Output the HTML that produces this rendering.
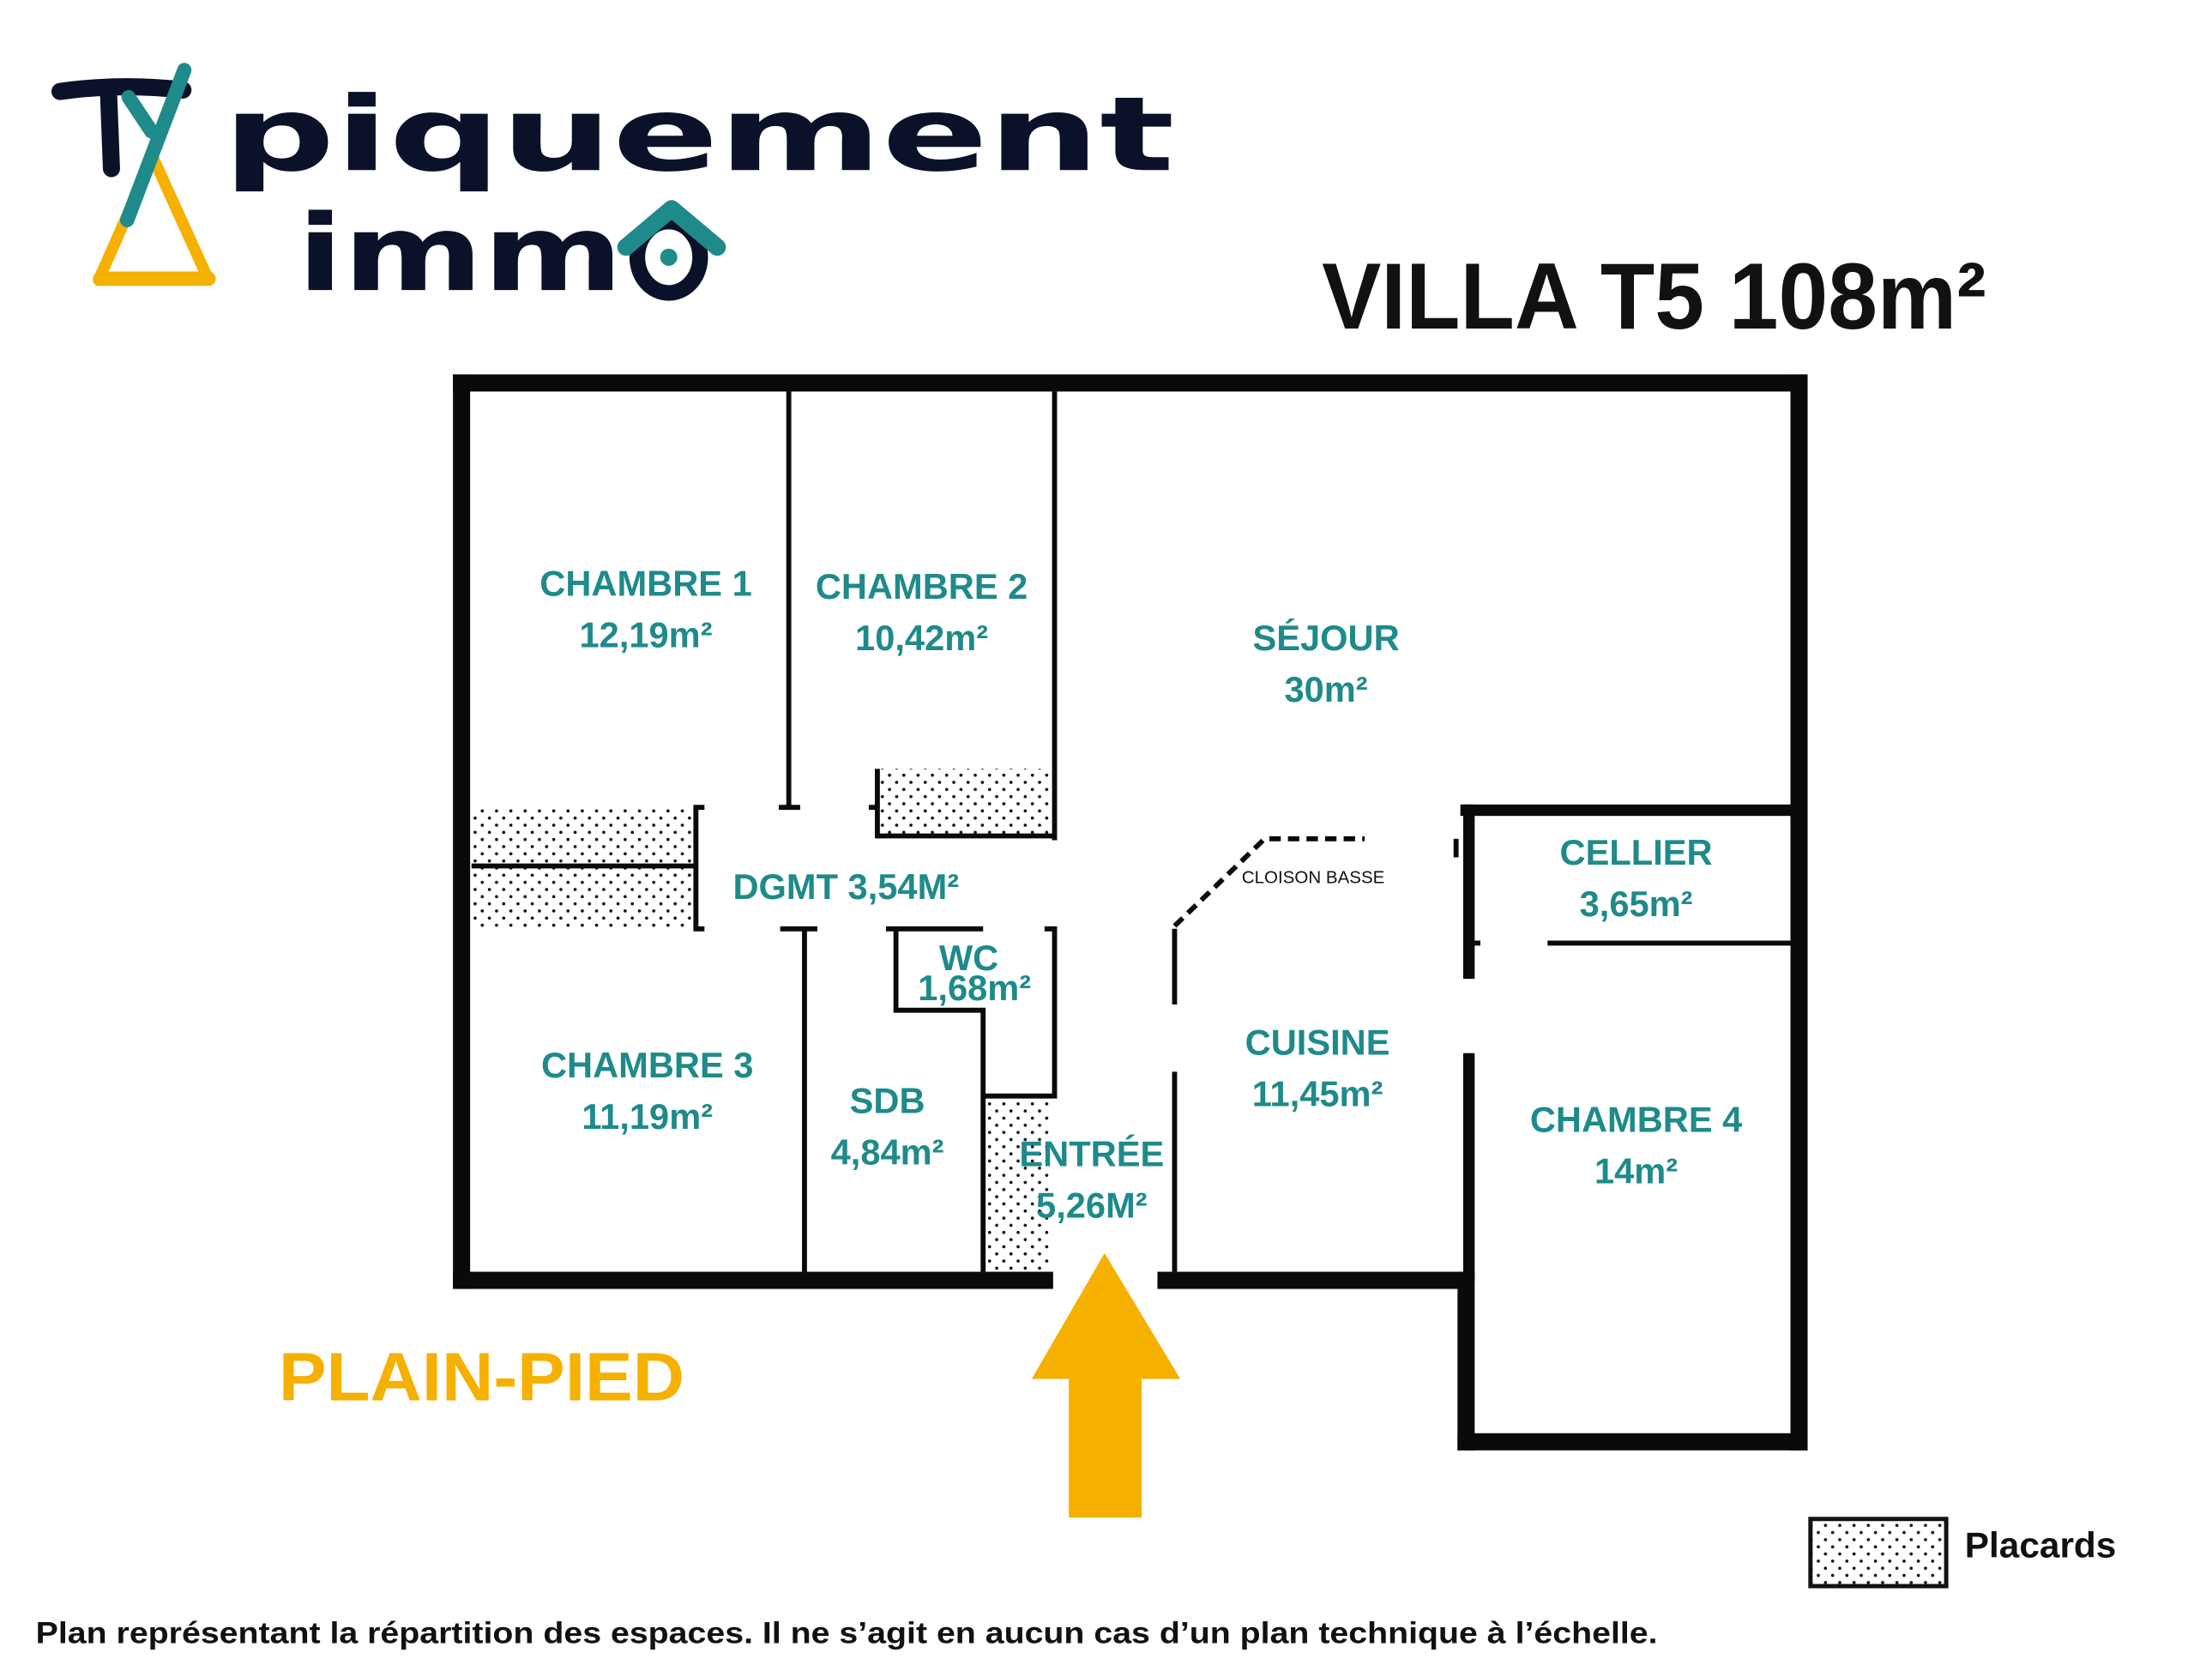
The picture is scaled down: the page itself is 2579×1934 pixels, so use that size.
<!DOCTYPE html>
<html><head><meta charset="utf-8"><style>html,body{margin:0;padding:0;background:#fff}svg{display:block}</style></head>
<body>
<svg width="2579" height="1934" viewBox="0 0 1548 1161" preserveAspectRatio="none" xmlns="http://www.w3.org/2000/svg">
<defs>
<pattern id="dots" width="10" height="10" patternUnits="userSpaceOnUse">
<rect width="10" height="10" fill="#fff"/>
<circle cx="2.5" cy="2.5" r="1.1" fill="#111"/>
<circle cx="7.5" cy="7.5" r="1.1" fill="#111"/>
</pattern>
</defs>
<rect width="1548" height="1161" fill="#fff"/>
<!-- logo -->
<g font-family="DejaVu Sans, sans-serif" fill="#0b1128" font-weight="bold">
<text x="156" y="119" font-size="72" textLength="666" lengthAdjust="spacingAndGlyphs">piquement</text>
<text x="208" y="203" font-size="74" textLength="228" lengthAdjust="spacingAndGlyphs">imm</text>
</g>
<path d="M42 64 Q85 58 128 63 M76 66 L78 118" stroke="#0b1128" stroke-width="12" stroke-linecap="round" fill="none"/>
<path d="M107 110 L146 196 L69 196 Z" stroke="#f5b000" stroke-width="8" fill="none" stroke-linejoin="round"/>
<path d="M70 195 H146" stroke="#f5b000" stroke-width="10" stroke-linecap="round"/>
<path d="M89 154 L129 49 M90 68 L106 92" stroke="#1f8a8a" stroke-width="10" stroke-linecap="round" fill="none"/>
<ellipse cx="468" cy="180" rx="22" ry="25" stroke="#0b1128" stroke-width="11" fill="none"/>
<path d="M438 173 L470 146 L502 173" stroke="#1f8a8a" stroke-width="12" stroke-linecap="round" stroke-linejoin="round" fill="none"/>
<circle cx="468" cy="180" r="6" fill="#1f8a8a"/>
<!-- title -->
<text x="925" y="230" font-family="Liberation Sans, sans-serif" font-weight="bold" font-size="66" fill="#111" textLength="465" lengthAdjust="spacingAndGlyphs">VILLA T5 108m²</text>
<!-- placards -->
<rect x="330" y="565" width="155" height="40" fill="url(#dots)"/>
<rect x="330" y="607" width="155" height="42" fill="url(#dots)"/>
<rect x="615" y="538" width="120" height="47" fill="url(#dots)"/>
<rect x="690" y="768" width="46" height="122" fill="url(#dots)"/>
<!-- outer walls -->
<g fill="#0a0a0a">
<rect x="317" y="262" width="948" height="12"/>
<rect x="317" y="262" width="12" height="640"/>
<rect x="317" y="890" width="420" height="12"/>
<rect x="810" y="890" width="220" height="12"/>
<rect x="1253" y="262" width="12" height="753"/>
<rect x="1020" y="890" width="12" height="125"/>
<rect x="1020" y="1003" width="245" height="12"/>
<rect x="1022" y="563" width="233" height="8"/>
<rect x="1024" y="563" width="8" height="122"/>
<rect x="1024" y="737" width="8" height="160"/>
</g>
<!-- interior walls -->
<g stroke="#0a0a0a" stroke-width="3.5" fill="none">
<path d="M552 274 V565 M545 565 H560"/>
<path d="M738 274 V588"/>
<path d="M614 538 V585 H738"/>
<path d="M608 565 H614"/>
<path d="M330 606 H486"/>
<path d="M493 565 H487 V650 H493"/>
<path d="M546 650 H572 M563 650 V890"/>
<path d="M620 650 H688 M627 650 V707 H688 V890"/>
<path d="M731 650 H738 V767 H688"/>
<path d="M822 650 V703 M822 750 V890"/>
<path d="M1019 587 V600 M1030 660 H1036 M1083 660 H1253"/>
<path d="M822 648 L885 587 H955" stroke-dasharray="8,5"/>
</g>
<!-- labels -->
<g font-family="Liberation Sans, sans-serif" font-weight="bold" fill="#1f8a8a" font-size="25" text-anchor="middle">
<text x="452" y="417">CHAMBRE 1</text><text x="452" y="453">12,19m²</text>
<text x="645" y="419">CHAMBRE 2</text><text x="645" y="455">10,42m²</text>
<text x="928" y="455">SÉJOUR</text><text x="928" y="491">30m²</text>
<text x="592" y="629">DGMT 3,54M²</text>
<text x="678" y="679">WC</text><text x="682" y="700">1,68m²</text>
<text x="1145" y="605">CELLIER</text><text x="1145" y="641">3,65m²</text>
<text x="453" y="754">CHAMBRE 3</text><text x="453" y="790">11,19m²</text>
<text x="621" y="779">SDB</text><text x="621" y="815">4,84m²</text>
<text x="764" y="816">ENTRÉE</text><text x="764" y="852">5,26M²</text>
<text x="922" y="738">CUISINE</text><text x="922" y="774">11,45m²</text>
<text x="1145" y="792">CHAMBRE 4</text><text x="1145" y="828">14m²</text>
</g>
<text x="869" y="618" font-family="Liberation Sans, sans-serif" font-size="12" fill="#111" textLength="100" lengthAdjust="spacingAndGlyphs">CLOISON BASSE</text>
<text x="195" y="980" font-family="Liberation Sans, sans-serif" font-weight="bold" font-size="48" fill="#f5b000" textLength="284" lengthAdjust="spacingAndGlyphs">PLAIN-PIED</text>
<polygon points="773,877 826,965 799,965 799,1062 748,1062 748,965 722,965" fill="#f5b000"/>
<rect x="1267" y="1063" width="95" height="47" fill="url(#dots)" stroke="#111" stroke-width="3"/>
<text x="1375" y="1090" font-family="Liberation Sans, sans-serif" font-weight="bold" font-size="25" fill="#111" textLength="106" lengthAdjust="spacingAndGlyphs">Placards</text>
<text x="25" y="1150" font-family="Liberation Sans, sans-serif" font-weight="bold" font-size="21" fill="#111" textLength="1135" lengthAdjust="spacingAndGlyphs">Plan représentant la répartition des espaces. Il ne s’agit en aucun cas d’un plan technique à l’échelle.</text>
</svg>
</body></html>
